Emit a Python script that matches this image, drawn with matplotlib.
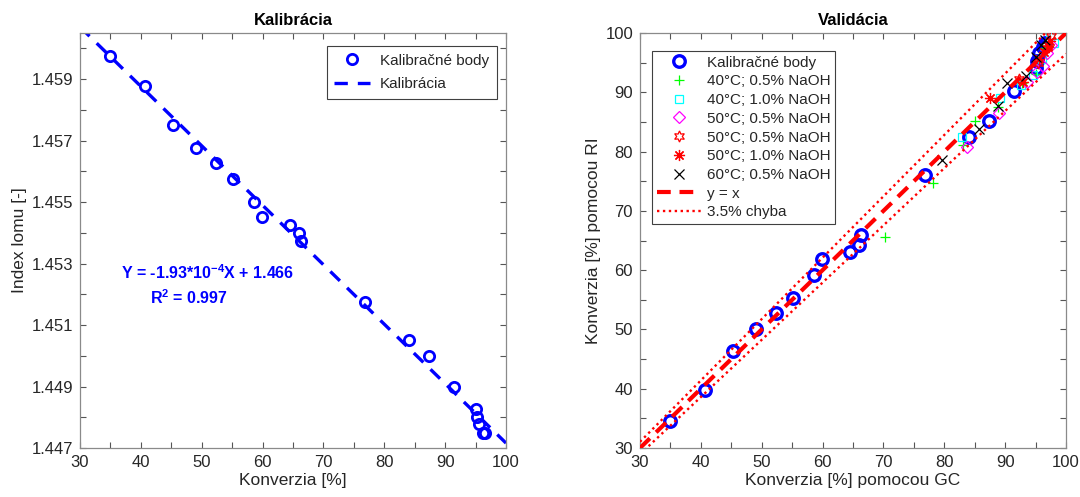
import matplotlib
matplotlib.use('Agg')
import matplotlib.pyplot as plt
from matplotlib.ticker import MultipleLocator, FixedLocator
import numpy as np

plt.rcParams['font.family'] = ['Liberation Sans', 'DejaVu Sans']
plt.rcParams['mathtext.fontset'] = 'custom'
plt.rcParams['mathtext.rm'] = 'Liberation Sans:bold'
plt.rcParams['mathtext.bf'] = 'Liberation Sans:bold'
plt.rcParams['mathtext.it'] = 'Liberation Sans:bold'
plt.rcParams['mathtext.default'] = 'bf'

# ---------------- data ----------------
cal_gc = [34.9, 40.6, 45.2, 49.0, 52.4, 55.2, 58.6, 59.9, 64.5, 66.0, 66.3,
          76.9, 84.0, 87.3, 91.4, 95.0, 95.3, 95.6, 96.2, 96.6]
cal_ri = [1.45976, 1.45876, 1.45751, 1.45675, 1.45626, 1.45575, 1.45501,
          1.45450, 1.45425, 1.45401, 1.45374, 1.45175, 1.45050, 1.44999,
          1.44898, 1.44827, 1.44800, 1.44778, 1.44750, 1.44748]
cal_ri_conv = [34.6, 39.8, 46.35, 50.1, 52.8, 55.3, 59.15, 61.8, 63.0, 64.3,
               65.85, 76.05, 82.5, 85.1, 90.3, 94.1, 95.2, 96.6, 97.7, 98.3]

fit_slope = -1.934e-4
fit_intercept = 1.4665
fit_range = [30, 100]

s40_05_gc = [70.3, 78.1, 83.1, 85.1, 88.8, 92.7, 95.0, 96.6]
s40_05_ri = [65.6, 74.7, 81.1, 85.1, 87.6, 91.5, 93.1, 97.4]

s40_10_gc = [82.9, 89.2, 92.6, 94.6, 96.1, 97.4, 98.0]
s40_10_ri = [82.4, 89.0, 91.3, 92.9, 95.6, 99.4, 98.3]

s50_05a_gc = [83.7, 89.0, 93.6, 95.3, 96.3, 96.9, 97.6]
s50_05a_ri = [80.8, 86.5, 91.8, 93.5, 94.5, 96.6, 98.0]

s50_05b_gc = [92.3, 95.4, 96.8, 97.5]
s50_05b_ri = [92.2, 95.0, 97.4, 99.5]

s50_10_gc = [87.5, 93.0, 95.6, 96.4, 97.0, 97.4]
s50_10_ri = [89.0, 91.7, 95.6, 96.8, 97.8, 98.7]

s60_05_gc = [79.6, 85.7, 88.9, 90.3, 93.4, 95.1, 95.9, 96.6]
s60_05_ri = [78.6, 83.8, 87.7, 91.5, 92.8, 95.9, 98.0, 98.9]

ident_range = [30, 100]
err_frac = 0.035

# ---------------- figure ----------------
W, H = 1080, 497
fig = plt.figure(figsize=(W / 100, H / 100), dpi=100)
axL = fig.add_axes([80 / W, 1 - 448 / H, 426 / W, 415 / H])
axR = fig.add_axes([640 / W, 1 - 448 / H, 426 / W, 415 / H])

TXT = '#262626'
SPINE = '#8a8a8a'
TICKFS = 12
LABFS = 12.5
LEGFS = 11


def style(ax):
    for s in ax.spines.values():
        s.set_color(SPINE)
        s.set_linewidth(0.9)
    ax.tick_params(which='both', direction='in', top=True, right=True,
                   length=4, width=0.8, color='#555555', labelcolor=TXT,
                   labelsize=TICKFS, pad=5)


# ---- left: calibration ----
blue = '#0000ff'
axL.plot(cal_gc, cal_ri, 'o', ls='none', mfc='none', mec=blue, ms=7.4,
         mew=2.0, label='Kalibračné body')
xf = np.array(fit_range, dtype=float)
axL.plot(xf, fit_slope * xf + fit_intercept, color=blue, lw=2.4,
         ls=(0, (4.0, 3.0)), label='Kalibrácia')
axL.set_xlim(30, 100)
axL.set_ylim(1.447, 1.4605)
axL.xaxis.set_major_locator(MultipleLocator(10))
axL.xaxis.set_minor_locator(MultipleLocator(5))
axL.yaxis.set_major_locator(FixedLocator([1.447, 1.449, 1.451, 1.453,
                                          1.455, 1.457, 1.459]))
axL.yaxis.set_minor_locator(FixedLocator([1.448, 1.450, 1.452, 1.454,
                                          1.456, 1.458, 1.460]))
axL.yaxis.set_major_formatter(matplotlib.ticker.FormatStrFormatter('%.3f'))
style(axL)
axL.set_xlabel('Konverzia [%]', fontsize=LABFS, color=TXT, labelpad=2)
axL.set_ylabel('Index lomu [-]', fontsize=LABFS, color=TXT, labelpad=3)
axL.set_title('Kalibrácia', fontsize=12, fontweight='bold', color='k',
              pad=6)
axL.text(51.0, 1.45270, 'Y = -1.93*10$^{-4}$X + 1.466', color=blue,
         fontsize=11.5, fontweight='bold', ha='center', va='center')
axL.text(47.9, 1.45190, 'R$^{2}$ = 0.997', color=blue, fontsize=11.5,
         fontweight='bold', ha='center', va='center')
legL = axL.legend(loc='upper right', bbox_to_anchor=(1 - 9 / 426, 1 - 13 / 415),
                  borderaxespad=0, fontsize=LEGFS, frameon=True, fancybox=False,
                  edgecolor='#404040', framealpha=1, handlelength=2.3,
                  handletextpad=0.7, labelspacing=0.64, borderpad=0.5)
legL.get_frame().set_linewidth(0.8)
for t in legL.get_texts():
    t.set_color(TXT)

# ---- right: validation ----
axR.plot(cal_gc, cal_ri_conv, 'o', ls='none', mfc='none', mec=blue, ms=8.3,
         mew=2.4, label='Kalibračné body', zorder=3)
axR.plot(s40_05_gc, s40_05_ri, '+', ls='none', color='#00ff00', ms=7.5,
         mew=0.9, label='40°C; 0.5% NaOH', zorder=3)
axR.plot(s40_10_gc, s40_10_ri, 's', ls='none', mfc='none', mec='#00ffff',
         ms=6, mew=0.9, label='40°C; 1.0% NaOH', zorder=3)
axR.plot(s50_05a_gc, s50_05a_ri, 'D', ls='none', mfc='none', mec='#ff00ff',
         ms=6, mew=0.9, label='50°C; 0.5% NaOH', zorder=3)
axR.plot(s50_05b_gc, s50_05b_ri, marker=(6, 1, 0), ls='none', mfc='none',
         mec='#ff0000', ms=8, mew=0.9, label='50°C; 0.5% NaOH', zorder=3)
axR.plot(s50_10_gc, s50_10_ri, marker=(8, 2, 0), ls='none', color='#ff0000',
         ms=8, mew=0.9, label='50°C; 1.0% NaOH', zorder=3)
axR.plot(s60_05_gc, s60_05_ri, 'x', ls='none', color='k', ms=6.5, mew=0.9,
         label='60°C; 0.5% NaOH', zorder=3)
xi = np.array(ident_range, dtype=float)
axR.plot(xi, xi, color='#ff0000', lw=3.0, ls=(0, (3.3, 2.1)), label='y = x',
         zorder=4)
axR.plot(xi, xi * (1 + err_frac), color='#ff0000', lw=1.7,
         ls=(0, (1, 1.5)), label='3.5% chyba', zorder=4)
axR.plot(xi, xi * (1 - err_frac), color='#ff0000', lw=1.7,
         ls=(0, (1, 1.5)), zorder=4)
axR.set_xlim(30, 100)
axR.set_ylim(30, 100)
for a in (axR.xaxis, axR.yaxis):
    a.set_major_locator(MultipleLocator(10))
    a.set_minor_locator(MultipleLocator(5))
style(axR)
axR.set_xlabel('Konverzia [%] pomocou GC', fontsize=LABFS, color=TXT,
               labelpad=2)
axR.set_ylabel('Konverzia [%] pomocou RI', fontsize=LABFS, color=TXT,
               labelpad=3)
axR.set_title('Validácia', fontsize=12, fontweight='bold', color='k', pad=6)
legR = axR.legend(loc='upper left', bbox_to_anchor=(12 / 426, 1 - 18 / 415),
                  borderaxespad=0, fontsize=LEGFS, frameon=True, fancybox=False,
                  edgecolor='#404040', framealpha=1, handlelength=2.9,
                  handletextpad=0.4, labelspacing=0.31, borderpad=0.3)
legR.get_frame().set_linewidth(0.8)
for t in legR.get_texts():
    t.set_color(TXT)

fig.savefig('out.png', dpi=100)
